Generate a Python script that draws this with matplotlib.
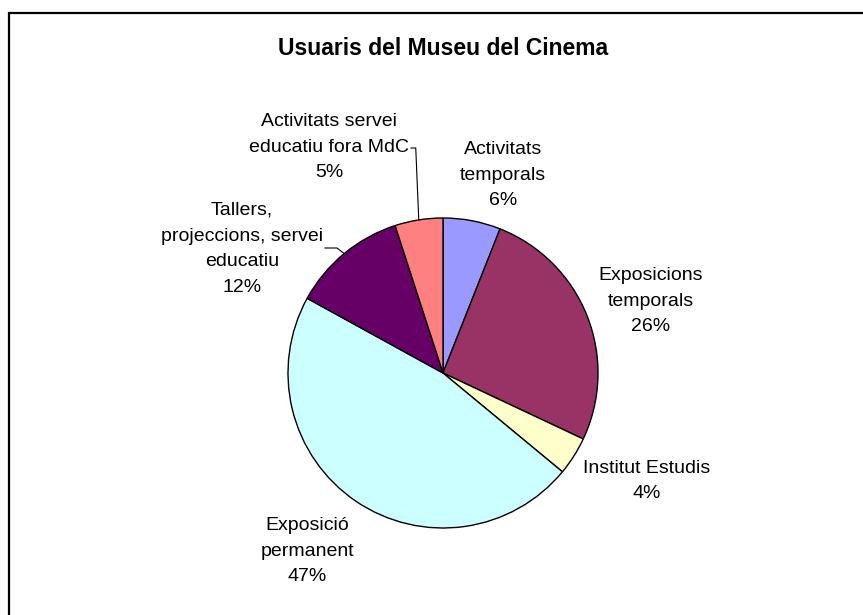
import matplotlib
matplotlib.use("Agg")
import matplotlib.pyplot as plt
from matplotlib.patches import Rectangle
from matplotlib import font_manager as fm
import numpy as np

# ---- data ----
title = "Usuaris del Museu del Cinema"
categories = ["Activitats\ntemporals", "Exposicions\ntemporals", "Institut Estudis",
              "Exposició\npermanent", "Tallers,\nprojeccions, servei\neducatiu",
              "Activitats servei\neducatiu fora MdC"]
values = [6, 26, 4, 47, 12, 5]
colors = ["#9999FF", "#993366", "#FFFFCC", "#CCFFFF", "#660066", "#FF8080"]

W, H = 863, 615
fig = plt.figure(figsize=(W / 100, H / 100), dpi=100)
ax = fig.add_axes([0, 0, 1, 1])
ax.set_xlim(0, W)
ax.set_ylim(0, H)
ax.set_aspect("equal")
ax.axis("off")

def Y(y):  # image y (top-down) -> axes y
    return H - y

names = {f.name for f in fm.fontManager.ttflist}
narrow = "Liberation Sans Narrow" in names
title_font = "Liberation Sans Narrow" if narrow else "Liberation Sans"
title_size = 19 if narrow else 16.5
lab_font = "Liberation Sans"

# frame (extends past right and bottom edges)
ax.add_patch(Rectangle((8.5, Y(700)), 900, 700 - 13, fill=False, ec="black", lw=1.6,
                       clip_on=False))

# pie
cx, cy, r = 443, Y(373), 155
wedges, _ = ax.pie(values, colors=colors, startangle=90, counterclock=False,
                   center=(cx, cy), radius=r, frame=True,
                   wedgeprops=dict(edgecolor="black", linewidth=1.0))
ax.set_xlim(0, W)
ax.set_ylim(0, H)
ax.axis("off")

ax.text(443.5, Y(55), title, ha="center", va="baseline", fontsize=title_size,
        fontweight="bold", family=title_font)

# label positions (image coords, block centers)
label_pos = [(503, 175), (651, 301), (647, 481), (307, 551), (242, 249), (329, 147)]
for name, v, (lx, ly) in zip(categories, values, label_pos):
    ax.text(lx, Y(ly), f"{name}\n{v}%", ha="center", va="center", fontsize=14,
            family=lab_font, linespacing=1.68, multialignment="center")

def edge_point(w):
    th = np.deg2rad((w.theta1 + w.theta2) / 2)
    return cx + r * np.cos(th), cy + r * np.sin(th)

# leader line for "Activitats servei educatiu fora MdC"
ex, ey = edge_point(wedges[5])
ax.plot([ex, ex - 3, 411], [ey, Y(148), Y(148)], color="black", lw=0.8)
# leader line for "Tallers..."
ex, ey = edge_point(wedges[4])
ax.plot([ex, 337, 325], [ey, Y(248), Y(248)], color="black", lw=0.8)

fig.savefig("out.png", dpi=100, facecolor="white")
